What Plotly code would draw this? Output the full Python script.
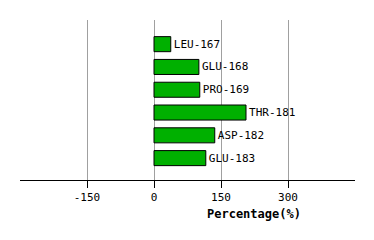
import plotly.graph_objects as go

residues = ["LEU-167", "GLU-168", "PRO-169", "THR-181", "ASP-182", "GLU-183"]
percent = [37.5, 100.5, 102.5, 206, 136, 116]
tick_vals = [-150, 0, 150, 300]
tick_text = ["-150", "0", "150", "300"]

ypos = list(range(len(residues)))

fig = go.Figure(go.Bar(
    x=percent, y=ypos, orientation="h",
    width=0.66,
    marker=dict(color="#00b000", line=dict(color="black", width=1)),
    text=residues, textposition="outside", cliponaxis=False,
    textfont=dict(family="DejaVu Sans Mono", size=11, color="black"),
))

fig.update_layout(
    width=374, height=240,
    margin=dict(l=20, r=19, t=20, b=60),
    plot_bgcolor="white", paper_bgcolor="white",
    showlegend=False,
    xaxis=dict(range=[-300, 450], tickvals=tick_vals, ticktext=tick_text,
               showgrid=True, gridcolor="#a0a0a0", gridwidth=1,
               zeroline=False, showline=True, linecolor="black", linewidth=1,
               ticks="outside", ticklen=7, tickcolor="black",
               tickfont=dict(family="DejaVu Sans Mono", size=11, color="black")),
    yaxis=dict(range=[5.96, -1.06], showticklabels=False, showgrid=False,
               zeroline=False, showline=False),
    annotations=[dict(text="<b>Percentage(%)</b>",
                      x=(254 - 20) / (374 - 39), y=(240 - 60 - 214) / 160,
                      xref="paper", yref="paper", xanchor="center", yanchor="middle",
                      showarrow=False,
                      font=dict(family="DejaVu Sans Mono", size=12, color="black"))],
)

fig.write_html("out.html")
